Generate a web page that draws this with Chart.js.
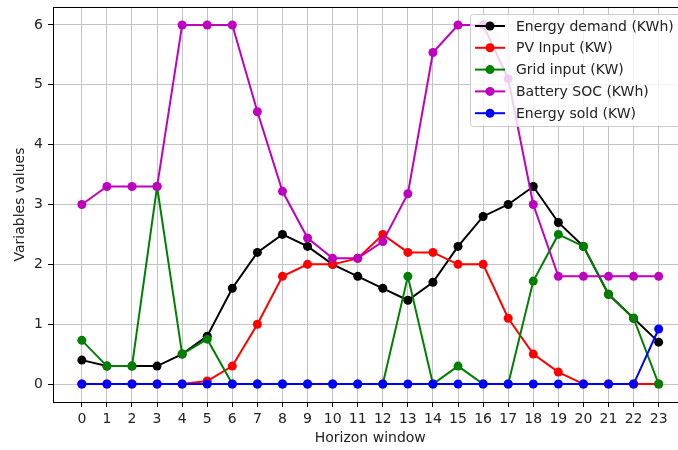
<!DOCTYPE html>
<html>
<head>
<meta charset="utf-8">
<script src="https://cdn.jsdelivr.net/npm/chart.js@4.4.1/dist/chart.umd.min.js"></script>
<style>
  html, body { margin: 0; padding: 0; background: #fff; overflow: hidden; }
  canvas { display: block; }
</style>
</head>
<body>
<canvas id="chart" width="692" height="450" style="width:692px;height:450px"></canvas>
<script>
// Data
const hours = [0, 1, 2, 3, 4, 5, 6, 7, 8, 9, 10, 11, 12, 13, 14, 15, 16, 17, 18, 19, 20, 21, 22, 23];
const yTicks = [0, 1, 2, 3, 4, 5, 6];

const energyDemand = [0.4, 0.3, 0.3, 0.3, 0.5, 0.8, 1.6, 2.2, 2.5, 2.3, 2.0, 1.8, 1.6, 1.4, 1.7, 2.3, 2.8, 3.0, 3.3, 2.7, 2.3, 1.5, 1.1, 0.7];
const pvInput = [0, 0, 0, 0, 0, 0.05, 0.3, 1.0, 1.8, 2.0, 2.0, 2.1, 2.5, 2.2, 2.2, 2.0, 2.0, 1.1, 0.5, 0.2, 0, 0, 0, 0];
const gridInput = [0.73, 0.3, 0.3, 3.3, 0.5, 0.75, 0, 0, 0, 0, 0, 0, 0, 1.8, 0, 0.3, 0, 0, 1.72, 2.5, 2.3, 1.5, 1.1, 0];
const batterySoc = [3.0, 3.3, 3.3, 3.3, 6.0, 6.0, 6.0, 4.55, 3.22, 2.44, 2.1, 2.1, 2.38, 3.18, 5.54, 6.0, 6.0, 5.1, 3.0, 1.8, 1.8, 1.8, 1.8, 1.8];
const energySold = [0, 0, 0, 0, 0, 0, 0, 0, 0, 0, 0, 0, 0, 0, 0, 0, 0, 0, 0, 0, 0, 0, 0, 0.92];

const FONT = 'DejaVu Sans';
const FSIZE = 14;

function series(label, values, color, order) {
  return {
    label,
    data: hours.map((h, i) => ({ x: h, y: values[i] })),
    borderColor: color,
    backgroundColor: color,
    borderWidth: 2,
    pointRadius: 4.5,
    pointHoverRadius: 4.5,
    pointBorderWidth: 0,
    tension: 0,
    order
  };
}

// Frame round the plot area (all four sides, like matplotlib spines)
const framePlugin = {
  id: 'frame',
  afterDatasetsDraw(chart) {
    const { ctx, chartArea: a } = chart;
    ctx.save();
    ctx.strokeStyle = '#000';
    ctx.lineWidth = 1;
    ctx.strokeRect(Math.round(a.left) + 0.5, Math.round(a.top) + 0.5,
      Math.round(a.right - a.left), Math.round(a.bottom - a.top));
    ctx.restore();
  }
};

// Legend box in the upper right, drawn over the lines
const legendPlugin = {
  id: 'boxLegend',
  afterDraw(chart) {
    const { ctx } = chart;
    const x0 = 470.5, y0 = 14.5, w = 230, h = 112;
    ctx.save();
    ctx.beginPath();
    ctx.roundRect(x0, y0, w, h, 3);
    ctx.fillStyle = 'rgba(255,255,255,0.8)';
    ctx.fill();
    ctx.strokeStyle = '#cccccc';
    ctx.lineWidth = 1;
    ctx.stroke();
    ctx.font = FSIZE + 'px "' + FONT + '"';
    ctx.textBaseline = 'middle';
    ctx.textAlign = 'left';
    chart.data.datasets.forEach((ds, i) => {
      const y = 26 + i * 21.8;
      ctx.strokeStyle = ds.borderColor;
      ctx.lineWidth = 2;
      ctx.beginPath();
      ctx.moveTo(475, y);
      ctx.lineTo(505, y);
      ctx.stroke();
      ctx.fillStyle = ds.borderColor;
      ctx.beginPath();
      ctx.arc(490, y, 4.5, 0, Math.PI * 2);
      ctx.fill();
      ctx.fillStyle = '#222';
      ctx.fillText(ds.label, 516, y + 1);
    });
    ctx.restore();
  }
};

const ctx = document.getElementById('chart').getContext('2d');
new Chart(ctx, {
  type: 'line',
  data: {
    datasets: [
      series('Energy demand (KWh)', energyDemand, '#000000', 4),
      series('PV Input (KW)', pvInput, '#ff0000', 3),
      series('Grid input (KW)', gridInput, '#008000', 2),
      series('Battery SOC (KWh)', batterySoc, '#bf00bf', 1),
      series('Energy sold (KW)', energySold, '#0000ff', 0)
    ]
  },
  options: {
    responsive: false,
    animation: false,
    layout: { padding: { left: 0, top: 7, right: 3, bottom: 0 } },
    plugins: {
      legend: { display: false },
      tooltip: { enabled: false }
    },
    scales: {
      x: {
        type: 'linear',
        min: -1.15,
        max: 24.15,
        afterBuildTicks: s => { s.ticks = hours.map(v => ({ value: v })); },
        afterFit: s => { s.height = 48; s.paddingLeft = 0; s.paddingRight = 0; },
        grid: { color: '#c4c4c4', lineWidth: 1, tickLength: 5, tickColor: '#000' },
        border: { display: false },
        ticks: { color: '#222', font: { family: FONT, size: FSIZE }, padding: 4, maxRotation: 0, autoSkip: false },
        title: { display: true, text: 'Horizon window', color: '#222', font: { family: FONT, size: FSIZE }, padding: { top: 0, bottom: 3 } }
      },
      y: {
        min: -0.3,
        max: 6.3,
        afterBuildTicks: s => { s.ticks = yTicks.map(v => ({ value: v })); },
        afterFit: s => { s.width = 53; s.paddingTop = 0; s.paddingBottom = 0; },
        grid: { color: '#c4c4c4', lineWidth: 1, tickLength: 5, tickColor: '#000' },
        border: { display: false },
        ticks: { color: '#222', font: { family: FONT, size: FSIZE }, padding: 5 },
        title: { display: true, text: 'Variables values', color: '#222', font: { family: FONT, size: FSIZE }, padding: { top: 12, bottom: 0 } }
      }
    }
  },
  plugins: [framePlugin, legendPlugin]
});
</script>
</body>
</html>
